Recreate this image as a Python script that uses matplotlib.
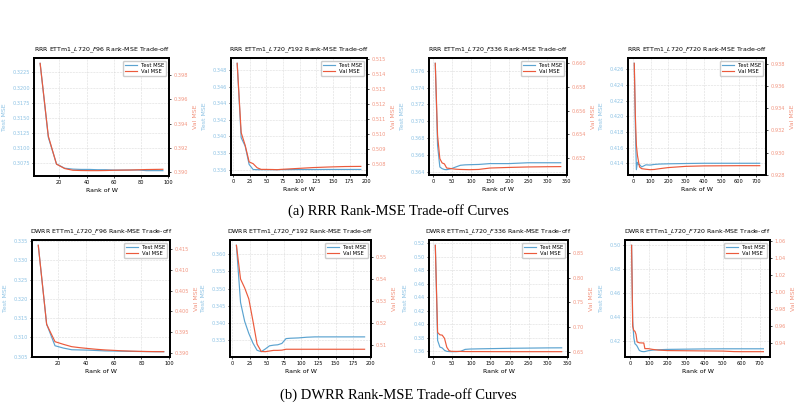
import matplotlib.pyplot as plt
from matplotlib.ticker import MultipleLocator, FormatStrFormatter

# ---- data ----
rrr96_rank = [6, 12, 18, 24, 30, 36, 42, 48, 54, 60, 66, 72, 78, 84, 90, 96]
rrr96_test = [0.3240, 0.3118, 0.3074, 0.3067, 0.30655, 0.3065, 0.3065, 0.30645,
              0.30645, 0.3064, 0.3064, 0.3064, 0.3064, 0.3063, 0.3063, 0.3063]
rrr96_val = [0.39893, 0.39297, 0.39067, 0.39031, 0.39017, 0.39015, 0.39014, 0.39014,
             0.39015, 0.39017, 0.39018, 0.39019, 0.39021, 0.39023, 0.39024, 0.39025]

rrr192_rank = [6, 12, 18, 24, 30, 36, 42, 48, 60, 66, 72, 84, 96, 120, 144, 168, 192]
rrr192_test = [0.34885, 0.33985, 0.33884, 0.33661, 0.33600, 0.33598, 0.33598, 0.33598,
               0.33598, 0.33598, 0.33599, 0.33599, 0.33600, 0.33600, 0.33601, 0.33601, 0.33601]
rrr192_val = [0.51471, 0.51008, 0.50923, 0.50812, 0.50800, 0.50773, 0.50762, 0.50762,
              0.50761, 0.50760, 0.50762, 0.50765, 0.50768, 0.50774, 0.50778, 0.50781, 0.50782]

rrr336_rank = [6, 12, 18, 24, 30, 36, 48, 60, 72, 84, 96, 120, 150, 200, 250, 300, 336]
rrr336_test = [0.37687, 0.36717, 0.3646, 0.3644, 0.3643, 0.36428, 0.3644, 0.3646, 0.3648,
               0.36485, 0.36487, 0.3649, 0.3650, 0.3650, 0.3651, 0.3651, 0.3651]
rrr336_val = [0.6600, 0.65392, 0.65194, 0.65158, 0.6515, 0.65115, 0.6511, 0.65105, 0.65103,
              0.65102, 0.65101, 0.65103, 0.65115, 0.6512, 0.65124, 0.65126, 0.65127]

rrr720_rank = [6, 12, 18, 24, 30, 36, 48, 72, 96, 120, 150, 200, 300, 400, 500, 600, 720]
rrr720_test = [0.42678, 0.41881, 0.41318, 0.41413, 0.41383, 0.41383, 0.41353, 0.4138, 0.41377,
               0.41385, 0.4139, 0.41393, 0.41397, 0.4140, 0.4140, 0.4140, 0.4140]
rrr720_val = [0.93803, 0.93338, 0.93066, 0.92975, 0.9292, 0.9287, 0.92855, 0.9285, 0.92846,
              0.92848, 0.92855, 0.92865, 0.92876, 0.9288, 0.92881, 0.92882, 0.92882]

dwrr96_rank = [6, 12, 18, 24, 30, 36, 42, 48, 54, 60, 66, 72, 78, 84, 90, 96]
dwrr96_test = [0.33388, 0.31345, 0.30784, 0.30724, 0.3068, 0.30675, 0.3067, 0.3066,
               0.3065, 0.30647, 0.30642, 0.30638, 0.30635, 0.30632, 0.3063, 0.3063]
dwrr96_val = [0.41597, 0.39685, 0.39266, 0.39202, 0.39145, 0.3912, 0.3910, 0.39081,
              0.39066, 0.39056, 0.39045, 0.39038, 0.39032, 0.39028, 0.39025, 0.39024]

dwrr192_rank = [6, 12, 18, 24, 30, 36, 42, 48, 54, 60, 66, 72, 78, 84, 96, 108, 120, 144, 168, 192]
dwrr192_test = [0.3626, 0.3460, 0.3405, 0.3370, 0.3342, 0.3321, 0.3317, 0.3325, 0.3334, 0.3336,
                0.3337, 0.3341, 0.3355, 0.3356, 0.3357, 0.3359, 0.3360, 0.3360, 0.3360, 0.3360]
dwrr192_val = [0.5553, 0.5400, 0.5360, 0.5310, 0.5210, 0.5105, 0.5072, 0.5071, 0.5074, 0.5077,
               0.5077, 0.5078, 0.5082, 0.5082, 0.5082, 0.5082, 0.5082, 0.5082, 0.5082, 0.5082]

dwrr336_rank = [6, 12, 18, 24, 30, 36, 42, 48, 60, 72, 84, 96, 120, 150, 200, 250, 300, 336]
dwrr336_test = [0.5166, 0.3761, 0.3663, 0.3650, 0.3615, 0.3600, 0.3597, 0.3595, 0.3595,
                0.3600, 0.3629, 0.3634, 0.3637, 0.3640, 0.3645, 0.3648, 0.3651, 0.3652]
dwrr336_val = [0.8654, 0.6889, 0.6842, 0.6835, 0.6770, 0.6590, 0.6520, 0.6507, 0.6505,
               0.6505, 0.6503, 0.6502, 0.6502, 0.6501, 0.6500, 0.6500, 0.6500, 0.6500]

dwrr720_rank = [6, 12, 18, 24, 30, 36, 48, 60, 72, 78, 96, 120, 150, 200, 300, 400, 500, 560, 600, 720]
dwrr720_test = [0.4997, 0.4367, 0.4228, 0.4178, 0.4170, 0.4158, 0.4122, 0.4114, 0.4112, 0.4113,
                0.4120, 0.4125, 0.4128, 0.4131, 0.4133, 0.4135, 0.4136, 0.4136, 0.4136, 0.4136]
dwrr720_val = [1.0550, 0.9593, 0.9542, 0.9535, 0.9498, 0.9408, 0.9398, 0.9396, 0.9396, 0.9329,
               0.9329, 0.9320, 0.9312, 0.9306, 0.9304, 0.9302, 0.9300, 0.9294, 0.9293, 0.9293]

panels = [
    ("RRR", "96", rrr96_rank, rrr96_test, rrr96_val),
    ("RRR", "192", rrr192_rank, rrr192_test, rrr192_val),
    ("RRR", "336", rrr336_rank, rrr336_test, rrr336_val),
    ("RRR", "720", rrr720_rank, rrr720_test, rrr720_val),
    ("DWRR", "96", dwrr96_rank, dwrr96_test, dwrr96_val),
    ("DWRR", "192", dwrr192_rank, dwrr192_test, dwrr192_val),
    ("DWRR", "336", dwrr336_rank, dwrr336_test, dwrr336_val),
    ("DWRR", "720", dwrr720_rank, dwrr720_test, dwrr720_val),
]
captions = ["(a) RRR Rank-MSE Trade-off Curves", "(b) DWRR Rank-MSE Trade-off Curves"]

# axes boxes in pixels: left, top, right, bottom
boxes = [
    (34, 58, 169, 176), (231, 58, 367, 175), (429, 58, 567, 175), (628, 58, 766, 175),
    (32, 240, 170, 357), (230, 240, 371, 357), (429, 240, 568, 357), (625, 240, 770, 357),
]
# tick steps (x, left y, right y) and formats
ticks = [
    (20, 0.0025, "%.4f", 0.002, "%.3f"),
    (25, 0.002, "%.3f", 0.001, "%.3f"),
    (50, 0.002, "%.3f", 0.002, "%.3f"),
    (100, 0.002, "%.3f", 0.002, "%.3f"),
    (20, 0.005, "%.3f", 0.005, "%.3f"),
    (25, 0.005, "%.3f", 0.01, "%.2f"),
    (50, 0.02, "%.2f", 0.05, "%.2f"),
    (100, 0.02, "%.2f", 0.02, "%.2f"),
]

test_color = "#5ba3d0"
val_color = "#eb5a3c"
test_tick = "#8cc2e4"
val_tick = "#f29580"

W, H = 797, 409
fig = plt.figure(figsize=(W / 100, H / 100), dpi=100)

for (method, horizon, rank, test, val), box, tk in zip(panels, boxes, ticks):
    l, t, r, b = box
    ax = fig.add_axes([l / W, 1 - b / H, (r - l) / W, (b - t) / H])
    ax2 = ax.twinx()
    h1, = ax.plot(rank, test, color=test_color, lw=0.85, label="Test MSE")
    h2, = ax2.plot(rank, val, color=val_color, lw=0.85, label="Val MSE")

    ax.set_title(f"{method} ETTm1_$L$720_$F${horizon} Rank-MSE Trade-off",
                 fontsize=4.5, pad=5)
    ax.set_xlabel("Rank of W", fontsize=4.5, labelpad=2)
    ax.set_ylabel("Test MSE", fontsize=4.5, color=test_tick, labelpad=4)
    ax2.set_ylabel("Val MSE", fontsize=4.5, color=val_tick, labelpad=4)

    ax.xaxis.set_major_locator(MultipleLocator(tk[0]))
    ax.yaxis.set_major_locator(MultipleLocator(tk[1]))
    ax.yaxis.set_major_formatter(FormatStrFormatter(tk[2]))
    ax2.yaxis.set_major_locator(MultipleLocator(tk[3]))
    ax2.yaxis.set_major_formatter(FormatStrFormatter(tk[4]))

    ax.tick_params(axis="x", labelsize=3.6, length=1.5, width=0.5, pad=1.5)
    ax.tick_params(axis="y", labelsize=3.6, length=1.5, width=0.5, pad=1.5, labelcolor=test_tick)
    ax2.tick_params(axis="y", labelsize=3.6, length=1.5, width=0.5, pad=1.5, labelcolor=val_tick)

    ax.grid(True, linestyle="--", linewidth=0.4, color="#cccccc", alpha=0.7)
    for sp in list(ax.spines.values()) + list(ax2.spines.values()):
        sp.set_linewidth(1.3)
        sp.set_color("black")

    ax2.legend([h1, h2], ["Test MSE", "Val MSE"], loc="upper right", fontsize=3.8,
               frameon=True, framealpha=1, edgecolor="#cccccc", fancybox=True,
               handlelength=2.2, borderpad=0.4, labelspacing=0.3)

fig.text(398 / W, 1 - 211 / H, captions[0], ha="center", va="center",
         family="Liberation Serif", fontsize=10.5)
fig.text(398 / W, 1 - 395 / H, captions[1], ha="center", va="center",
         family="Liberation Serif", fontsize=10.5)

fig.savefig("out.png", dpi=100)
